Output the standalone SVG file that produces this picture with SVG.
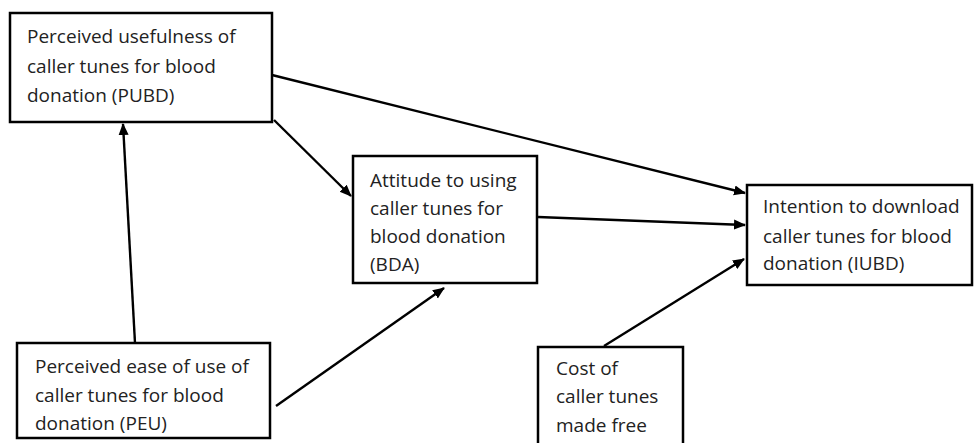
<svg xmlns="http://www.w3.org/2000/svg" width="975" height="443" viewBox="0 0 975 443">
<defs>
<style>
.box{fill:#fff;stroke:#000;stroke-width:2.5}
.t{font-family:"Open Sans","Liberation Sans",sans-serif;font-size:19px;fill:#222}
.c{stroke:#000;stroke-width:2.4;fill:none;marker-end:url(#ah)}
</style>
<marker id="ah" markerWidth="12" markerHeight="12" viewBox="0 0 12 12" refX="11" refY="6" orient="auto" markerUnits="userSpaceOnUse">
<path d="M0,1 L12,6 L0,11 z" fill="#000"/>
</marker>
</defs>
<rect width="975" height="443" fill="#fff"/>
<g id="connectors">
<line class="c" x1="135" y1="343" x2="123" y2="124"/>
<line class="c" x1="274" y1="120" x2="351" y2="196"/>
<line class="c" x1="272" y1="75" x2="745" y2="193"/>
<line class="c" x1="538" y1="217" x2="745" y2="225"/>
<line class="c" x1="276" y1="406" x2="444" y2="288"/>
<line class="c" x1="604" y1="346" x2="744" y2="259"/>
</g>
<g id="PUBD">
<rect class="box" x="10" y="13" width="262" height="109"/>
<text class="t" x="27" y="43">Perceived usefulness of</text>
<text class="t" x="27" y="73">caller tunes for blood</text>
<text class="t" x="27" y="102">donation (PUBD)</text>
</g>
<g id="BDA">
<rect class="box" x="353" y="156" width="184" height="127"/>
<text class="t" x="370" y="187">Attitude to using</text>
<text class="t" x="370" y="215">caller tunes for</text>
<text class="t" x="370" y="243">blood donation</text>
<text class="t" x="370" y="271">(BDA)</text>
</g>
<g id="IUBD">
<rect class="box" x="747" y="185" width="225" height="100"/>
<text class="t" x="763" y="213">Intention to download</text>
<text class="t" x="763" y="243">caller tunes for blood</text>
<text class="t" x="763" y="270">donation (IUBD)</text>
</g>
<g id="PEU">
<rect class="box" x="17" y="343" width="253" height="95"/>
<text class="t" x="35" y="373">Perceived ease of use of</text>
<text class="t" x="35" y="402">caller tunes for blood</text>
<text class="t" x="35" y="430">donation (PEU)</text>
</g>
<g id="COST">
<rect class="box" x="538" y="347" width="145" height="110"/>
<text class="t" x="556" y="375">Cost of</text>
<text class="t" x="556" y="403">caller tunes</text>
<text class="t" x="556" y="432">made free</text>
</g>
</svg>
